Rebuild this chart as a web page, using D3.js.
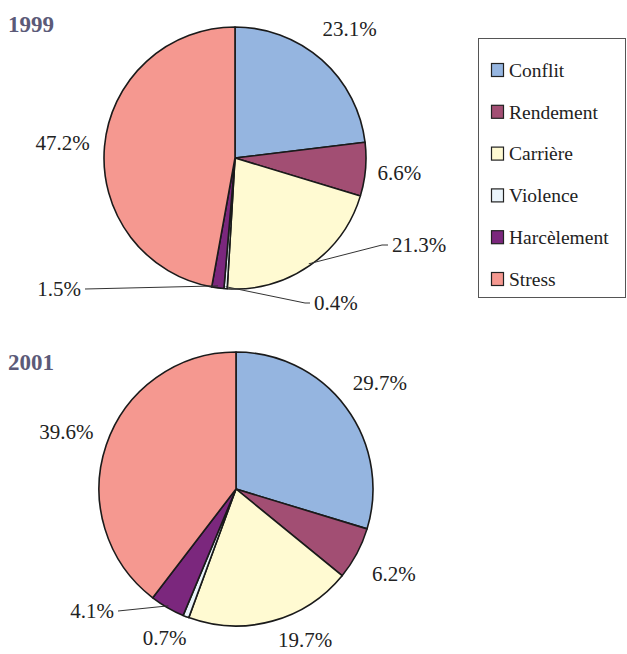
<!DOCTYPE html>
<html lang="fr">
<head>
<meta charset="UTF-8">
<title>1999 / 2001</title>
<script src="https://cdn.jsdelivr.net/npm/d3@7"></script>
<style>
  body { margin: 0; background: #fff; }
  svg { font-family: "Liberation Serif", "DejaVu Serif", serif; }
  .lbl { font-size: 21px; fill: #222; }
  .year { font-size: 23px; font-weight: bold; fill: #5b5a78; }
  .leg { font-size: 19.5px; fill: #222; }
</style>
</head>
<body>
<svg id="chart" width="627" height="654"></svg>
<script>
  const categories = ["Conflit", "Rendement", "Carrière", "Violence", "Harcèlement", "Stress"];
  const colors = ["#95b5e0", "#a24e73", "#fffad2", "#eaf4fb", "#7b277d", "#f59890"];
  const values1999 = [23.1, 6.6, 21.3, 0.4, 1.5, 47.2];
  const values2001 = [29.7, 6.2, 19.7, 0.7, 4.1, 39.6];
  const years = ["1999", "2001"];

  const svg = d3.select("#chart");

  // layout of each pie and where the small slices get a leader line
  const pies = [
    { year: years[0], values: values1999, cx: 235, cy: 158, r: 131, ty: 32,
      leaders: {
        2: { to: [382, 245], end: [388, 245], tx: 392, ty: 245, anchor: "start" },
        3: { to: [305, 303], end: [310, 303], tx: 314, ty: 303, anchor: "start" },
        4: { to: [85, 289], end: [85, 289], tx: 81, ty: 289, anchor: "end" }
      },
      shift: { 1: [-8, 0] } },
    { year: years[1], values: values2001, cx: 236, cy: 489, r: 137, ty: 370,
      leaders: {
        4: { to: [118, 611], end: [118, 611], tx: 114, ty: 611, anchor: "end" }
      },
      shift: { 2: [22, -22], 3: [-6, -18] } }
  ];

  const pie = d3.pie().sort(null).value(d => d);

  pies.forEach(p => {
    const g = svg.append("g").attr("transform", `translate(${p.cx},${p.cy})`);
    const arc = d3.arc().innerRadius(0).outerRadius(p.r);
    const arcs = pie(p.values);

    g.selectAll("path.slice")
      .data(arcs)
      .join("path")
      .attr("class", "slice")
      .attr("d", arc)
      .attr("fill", (d, i) => colors[i])
      .attr("stroke", "#1a1a1a")
      .attr("stroke-width", 1.6)
      .attr("stroke-linejoin", "round");

    const lblR = p.r + 42;
    arcs.forEach((d, i) => {
      const mid = (d.startAngle + d.endAngle) / 2;
      const text = d3.format(".1f")(d.data) + "%";
      const lead = p.leaders[i];
      if (lead) {
        const px = Math.sin(mid) * (p.r - 2), py = -Math.cos(mid) * (p.r - 2);
        const to = [lead.to[0] - p.cx, lead.to[1] - p.cy];
        const end = [lead.end[0] - p.cx, lead.end[1] - p.cy];
        g.append("path")
          .attr("d", d3.line()([[px, py], to, end]))
          .attr("fill", "none")
          .attr("stroke", "#333")
          .attr("stroke-width", 1);
        g.append("text")
          .attr("class", "lbl")
          .attr("x", lead.tx - p.cx)
          .attr("y", lead.ty - p.cy)
          .attr("dy", "0.35em")
          .attr("text-anchor", lead.anchor)
          .text(text);
      } else {
        const s = p.shift[i] || [0, 0];
        g.append("text")
          .attr("class", "lbl")
          .attr("x", Math.sin(mid) * lblR + s[0])
          .attr("y", -Math.cos(mid) * lblR + s[1])
          .attr("dy", "0.35em")
          .attr("text-anchor", "middle")
          .text(text);
      }
    });

    svg.append("text")
      .attr("class", "year")
      .attr("x", 8)
      .attr("y", p.ty)
      .text(p.year);
  });

  // legend
  const legend = svg.append("g");
  legend.append("rect")
    .attr("x", 478.5).attr("y", 38.5)
    .attr("width", 147).attr("height", 259)
    .attr("fill", "none")
    .attr("stroke", "#555")
    .attr("stroke-width", 1);

  const ly = d3.scalePoint().domain(categories).range([70, 279]);
  const items = legend.selectAll("g.item")
    .data(categories)
    .join("g")
    .attr("class", "item")
    .attr("transform", d => `translate(491,${ly(d)})`);

  items.append("rect")
    .attr("x", 0.5).attr("y", -6.5)
    .attr("width", 12).attr("height", 13)
    .attr("fill", (d, i) => colors[i])
    .attr("stroke", "#222")
    .attr("stroke-width", 1.2);

  items.append("text")
    .attr("class", "leg")
    .attr("x", 18)
    .attr("dy", "0.35em")
    .text(d => d);
</script>
</body>
</html>
